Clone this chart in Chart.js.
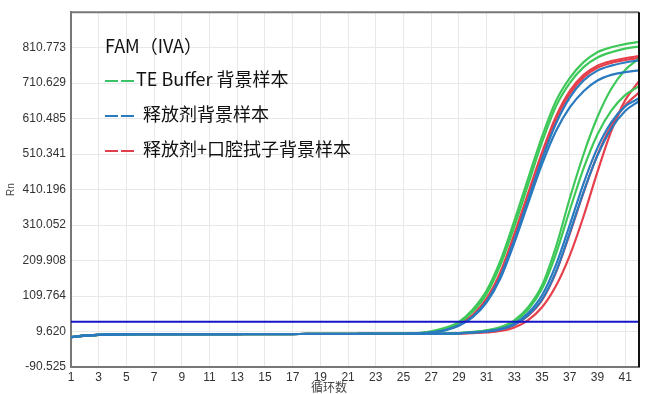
<!DOCTYPE html>
<html>
<head>
<meta charset="utf-8">
<script src="https://cdn.jsdelivr.net/npm/chart.js@4/dist/chart.umd.min.js"></script>
<style>
  html, body { margin: 0; padding: 0; background: #fff; }
  #wrap { position: relative; width: 647px; height: 394px; }
  canvas { display: block; }
  .note { position: absolute; font-family: "Noto Sans CJK SC", "Noto Sans", sans-serif; font-size: 18px; color: #111; white-space: nowrap; line-height: 1; }
  .dash { display: inline-block; width: 13px; height: 0; border-top: 2px solid; margin-right: 3px; vertical-align: middle; }
  .axis-title { position: absolute; font-family: "Noto Sans CJK SC", sans-serif; font-size: 12px; color: #444; line-height: 1; }
</style>
</head>
<body>
<div id="wrap">
  <canvas id="pcrChart" width="647" height="394"></canvas>
  <div class="note" style="left:105px;top:36px;">FAM（IVA）</div>
  <div class="note" style="left:105px;top:69px;"><span class="dash" style="border-color:#3cc36a"></span><span class="dash" style="border-color:#3cc36a;margin-right:2px"></span>TE Buffer 背景样本</div>
  <div class="note" style="left:105px;top:104px;"><span class="dash" style="border-color:#2a7ac0"></span><span class="dash" style="border-color:#2a7ac0;margin-right:9px"></span>释放剂背景样本</div>
  <div class="note" style="left:105px;top:139px;"><span class="dash" style="border-color:#e0404c"></span><span class="dash" style="border-color:#e0404c;margin-right:9px"></span>释放剂+口腔拭子背景样本</div>
  <div class="axis-title" style="left:311px;top:381px;">循环数</div>
</div>
<script>
// --- cycle numbers and axis ticks ---
const CYCLES = [1, 2, 3, 4, 5, 6, 7, 8, 9, 10, 11, 12, 13, 14, 15, 16, 17, 18, 19, 20, 21,
  22, 23, 24, 25, 26, 27, 28, 29, 30, 31, 32, 33, 34, 35, 36, 37, 38, 39, 40, 41, 42];
const X_TICKS = [1, 3, 5, 7, 9, 11, 13, 15, 17, 19, 21, 23, 25, 27, 29, 31, 33, 35, 37, 39, 41];
const Y_TICKS = [-90.525, 9.620, 109.764, 209.908, 310.052, 410.196, 510.341, 610.485, 710.629, 810.773];
const Y_MAX = 910.917;
const THRESHOLD = 37;

// --- Rn per cycle ---
// early group
const GREEN_A1 = [-6, -1.5, 0.5, 1.5, 2, 2, 2.2, 2.3, 2.4, 2.4, 2.5, 2.5, 2.5, 2.6, 2.6, 2.6, 2.6, 2.7, 2.7, 2.7, 2.8, 2.8, 2.9, 3.2,
  3.8, 5, 10, 20, 37, 72, 125, 210, 322, 442, 560, 660, 725, 770, 798, 812, 821, 827];
const GREEN_A2 = [-6, -1.5, 0.5, 1.5, 2, 2, 2.2, 2.3, 2.4, 2.4, 2.5, 2.5, 2.5, 2.6, 2.6, 2.6, 2.6, 2.7, 2.7, 2.7, 2.8, 2.8, 2.9, 3.1,
  3.6, 4.8, 9, 18, 34, 66, 116, 198, 306, 425, 544, 645, 711, 756, 783, 798, 808, 814];
const RED_A1 = [-6, -1.5, 0.5, 1.5, 2, 2, 2.2, 2.3, 2.4, 2.4, 2.5, 2.5, 2.5, 2.6, 2.6, 2.6, 2.6, 2.7, 2.7, 2.7, 2.8, 2.8, 2.9, 3.0,
  3.3, 4.4, 8, 16, 30, 57, 103, 178, 285, 400, 515, 616, 688, 734, 760, 773, 781, 787];
const RED_A2 = [-6, -1.5, 0.5, 1.5, 2, 2, 2.2, 2.3, 2.4, 2.4, 2.5, 2.5, 2.5, 2.6, 2.6, 2.6, 2.6, 2.7, 2.7, 2.7, 2.8, 2.8, 2.9, 3.0,
  3.3, 4.3, 7.5, 15, 28, 54, 99, 172, 278, 392, 506, 607, 680, 727, 754, 768, 776, 782];
const BLUE_A1 = [-6, -1.5, 0.5, 1.5, 2, 2, 2.2, 2.3, 2.4, 2.4, 2.5, 2.5, 2.5, 2.6, 2.6, 2.6, 2.6, 2.7, 2.7, 2.7, 2.8, 2.8, 2.9, 3.0,
  3.2, 4.2, 7, 14, 27, 52, 95, 166, 268, 382, 496, 596, 670, 718, 746, 760, 769, 775];
const BLUE_A2 = [-6, -1.5, 0.5, 1.5, 2, 2, 2.2, 2.3, 2.4, 2.4, 2.5, 2.5, 2.5, 2.6, 2.6, 2.6, 2.6, 2.7, 2.7, 2.7, 2.8, 2.8, 2.9, 3.0,
  3.1, 4, 6.8, 13, 26, 50, 92, 160, 260, 372, 482, 575, 642, 688, 718, 734, 742, 747];
// late group
const GREEN_B1 = [-7, -2, 0, 1.2, 1.8, 2, 2.1, 2.2, 2.3, 2.3, 2.4, 2.4, 2.4, 2.5, 2.5, 2.5, 2.5, 2.6, 2.6, 2.6, 2.6, 2.7, 2.7, 2.8,
  2.8, 2.9, 3.1, 3.6, 5.2, 8.5, 13, 22, 41, 78, 140, 248, 385, 510, 615, 695, 748, 780];
const GREEN_B2 = [-7, -2, 0, 1.2, 1.8, 2, 2.1, 2.2, 2.3, 2.3, 2.4, 2.4, 2.4, 2.5, 2.5, 2.5, 2.5, 2.6, 2.6, 2.6, 2.6, 2.7, 2.7, 2.8,
  2.8, 2.9, 3.1, 3.5, 5, 7.8, 12, 20, 38, 72, 130, 228, 352, 470, 566, 633, 677, 702];
const BLUE_B1 = [-7, -2, 0, 1.2, 1.8, 2, 2.1, 2.2, 2.3, 2.3, 2.4, 2.4, 2.4, 2.5, 2.5, 2.5, 2.5, 2.6, 2.6, 2.6, 2.6, 2.7, 2.7, 2.8,
  2.8, 2.9, 3.0, 3.4, 4.6, 7, 10, 17, 32, 62, 112, 197, 310, 428, 528, 600, 645, 668];
const BLUE_B2 = [-7, -2, 0, 1.2, 1.8, 2, 2.1, 2.2, 2.3, 2.3, 2.4, 2.4, 2.4, 2.5, 2.5, 2.5, 2.5, 2.6, 2.6, 2.6, 2.6, 2.7, 2.7, 2.8,
  2.8, 2.9, 3.0, 3.4, 4.5, 6.8, 9.8, 15.5, 29, 56, 100, 178, 288, 404, 506, 582, 632, 660];
const RED_B1 = [-7, -2, 0, 1.2, 1.8, 2, 2.1, 2.2, 2.3, 2.3, 2.4, 2.4, 2.4, 2.5, 2.5, 2.5, 2.5, 2.6, 2.6, 2.6, 2.6, 2.7, 2.7, 2.8,
  2.8, 2.9, 3.0, 3.3, 4.4, 6.5, 9.5, 15, 28, 54, 98, 176, 285, 402, 508, 590, 648, 684];
const RED_B2 = [-7, -2, 0, 1.2, 1.8, 2, 2.1, 2.2, 2.3, 2.3, 2.4, 2.4, 2.4, 2.5, 2.5, 2.5, 2.5, 2.6, 2.6, 2.6, 2.6, 2.7, 2.7, 2.8,
  2.8, 2.9, 3.0, 3.2, 3.9, 5.2, 7, 11, 21, 42, 78, 138, 224, 335, 460, 575, 662, 716];

const GREEN = '#3fc85a';
const BLUE = '#2a7ac0';
const RED = '#e6404c';

function curve(data, color) {
  return {
    data, borderColor: color, borderWidth: 2.2, pointRadius: 0,
    cubicInterpolationMode: 'monotone', fill: false
  };
}

// draws the top and right frame of the plot
const frame = {
  id: 'frame',
  afterDraw(chart) {
    const { ctx, chartArea: a } = chart;
    ctx.save();
    ctx.lineWidth = 2;
    ctx.strokeStyle = '#777';
    ctx.beginPath(); ctx.moveTo(a.left, a.top); ctx.lineTo(a.right, a.top); ctx.stroke();
    ctx.strokeStyle = '#111';
    ctx.beginPath(); ctx.moveTo(a.right, a.top); ctx.lineTo(a.right, a.bottom); ctx.stroke();
    ctx.restore();
  }
};

const tickFont = { family: '"Liberation Sans", Arial, sans-serif', size: 12 };

// first dataset is painted on top
new Chart(document.getElementById('pcrChart'), {
  type: 'line',
  data: {
    labels: CYCLES,
    datasets: [
      { data: [{ x: CYCLES[0], y: THRESHOLD }, { x: CYCLES[CYCLES.length - 1], y: THRESHOLD }],
        borderColor: '#1616c8', borderWidth: 2, pointRadius: 0 },
      curve(BLUE_A1, BLUE), curve(BLUE_A2, BLUE), curve(BLUE_B1, BLUE), curve(BLUE_B2, BLUE),
      curve(GREEN_A1, GREEN), curve(GREEN_A2, GREEN), curve(GREEN_B1, GREEN), curve(GREEN_B2, GREEN),
      curve(RED_A1, RED), curve(RED_A2, RED), curve(RED_B1, RED), curve(RED_B2, RED)
    ]
  },
  options: {
    responsive: false,
    animation: false,
    layout: { padding: { top: 6, right: 8, left: 0, bottom: 0 } },
    plugins: { legend: { display: false }, tooltip: { enabled: false } },
    scales: {
      x: {
        type: 'linear', min: 1, max: 42,
        afterBuildTicks: s => { s.ticks = X_TICKS.map(v => ({ value: v })); },
        afterFit: s => { s.height = 27; },
        ticks: { autoSkip: false, maxRotation: 0, padding: 3, color: '#333', font: tickFont, callback: v => String(v) },
        grid: { color: '#e8e8e8', lineWidth: 1, drawTicks: false },
        border: { color: '#777', width: 2 }
      },
      y: {
        type: 'linear', min: Y_TICKS[0], max: Y_MAX,
        afterBuildTicks: s => { s.ticks = Y_TICKS.concat([Y_MAX]).map(v => ({ value: v })); },
        afterFit: s => { s.width = 71; },
        ticks: { padding: 5, color: '#333', font: tickFont, callback: v => (v === Y_MAX ? '' : v.toFixed(3)) },
        grid: { color: '#e8e8e8', lineWidth: 1, drawTicks: false },
        border: { color: '#777', width: 2 },
        title: { display: true, text: 'Rn', color: '#444', font: { family: '"Liberation Sans", Arial, sans-serif', size: 10 }, padding: { top: 5, bottom: 0 } }
      }
    }
  },
  plugins: [frame]
});
</script>
</body>
</html>
